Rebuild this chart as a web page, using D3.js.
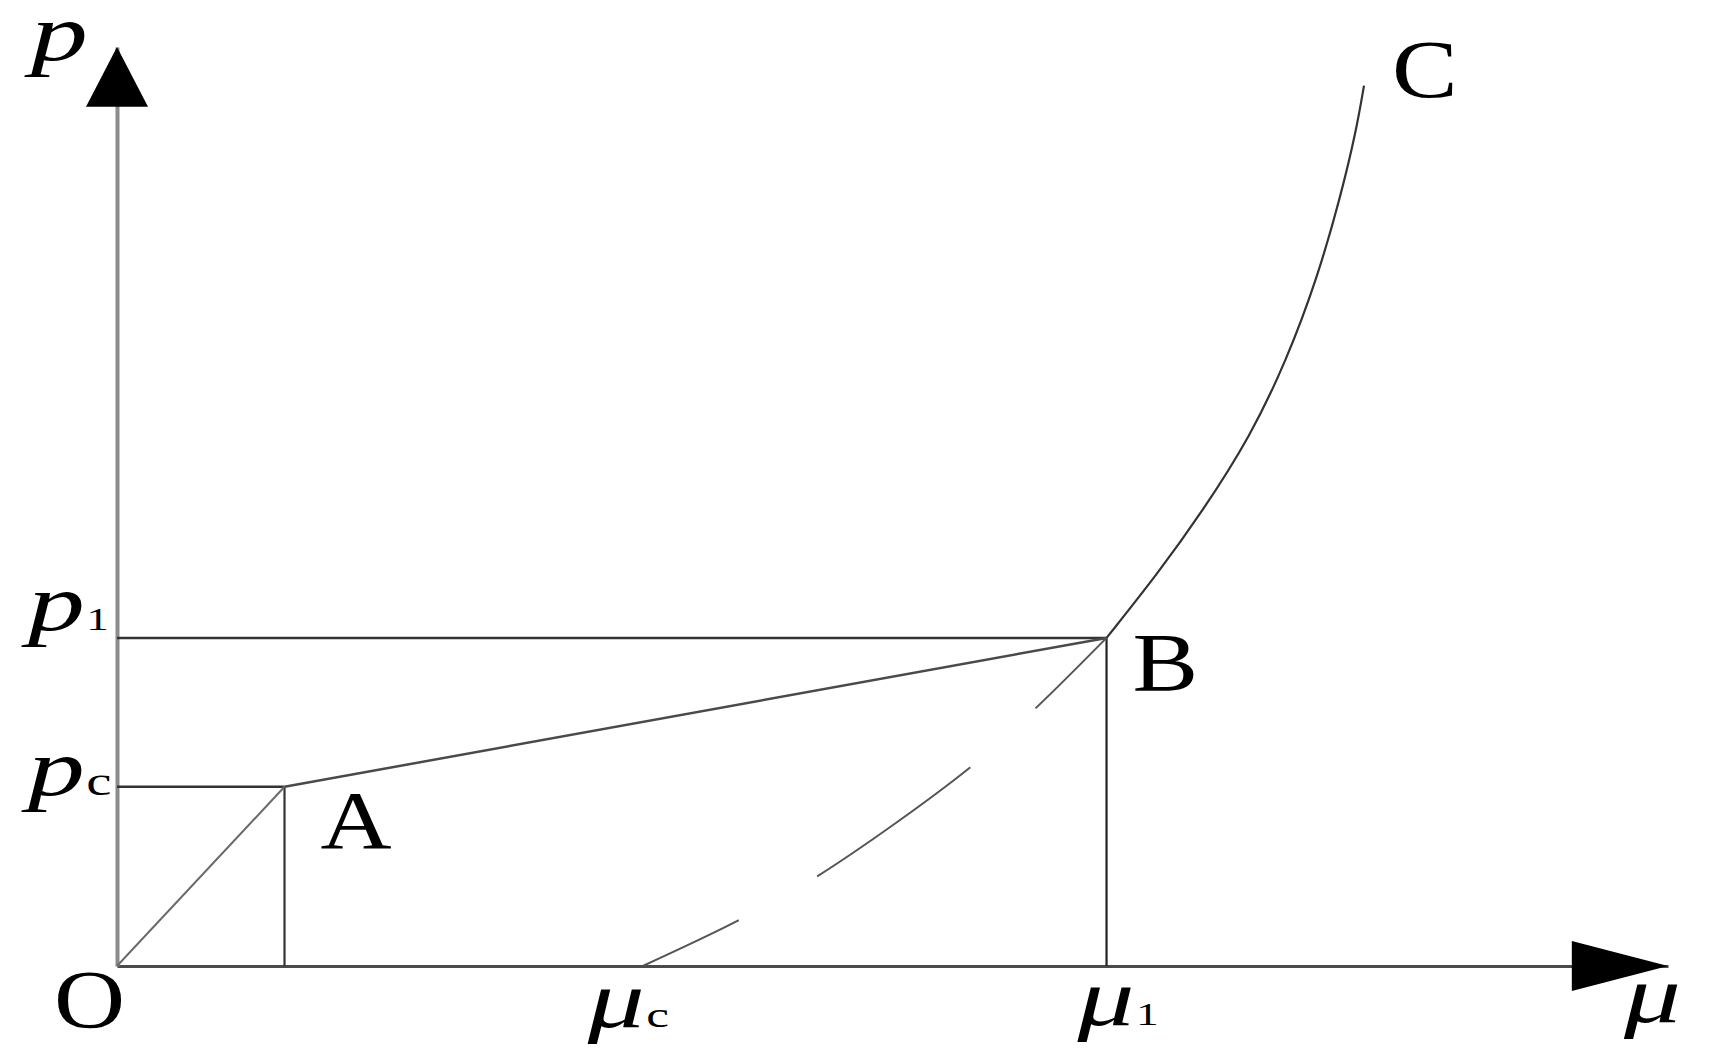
<!DOCTYPE html>
<html>
<head>
<meta charset="utf-8">
<script src="https://cdn.jsdelivr.net/npm/d3@7"></script>
<style>
  html, body { margin: 0; padding: 0; background: #fff; }
  svg { display: block; }
  .lbl { font-family: "Liberation Serif", "Times New Roman", serif; fill: #000; }
</style>
</head>
<body>
<div id="chart"></div>
<script>
// values in chart units (both axes run 0..100 up to the arrow tips)
const loadMu = [0, 10.8, 63.8];          // O -> A -> B
const loadP = [0, 19.5, 35.7];
const hardenMu = [63.8, 67.1, 70.0, 73.1, 75.4, 77.4, 78.9, 79.9, 80.4];   // B -> C
const hardenP = [35.7, 42.7, 49.5, 57.7, 65.9, 74.9, 83.8, 90.9, 95.8];
const unloadMu = [63.8, 59.2, 55.0, 45.1, 40.0, 33.9];   // B -> μc
const unloadP = [35.7, 28.0, 21.6, 9.7, 4.9, 0];
const pointLabels = ["O", "A", "B", "C"];
const yTickValues = [19.5, 35.7];
const yTickLabels = [["p", "c"], ["p", "1"]];
const xTickValues = [33.9, 63.8];
const xTickLabels = [["μ", "c"], ["μ", "1"]];

const width = 1709, height = 1059;
const svg = d3.select("#chart").append("svg")
    .attr("width", width)
    .attr("height", height);

const x = d3.scaleLinear().domain([0, 100]).range([117, 1668]);
const y = d3.scaleLinear().domain([0, 100]).range([966, 47]);

// axes (no ticks, just the lines)
svg.append("g")
    .attr("transform", `translate(0,${y(0)})`)
    .call(d3.axisBottom(x).ticks(0).tickSizeOuter(0))
    .select(".domain").attr("stroke", "#4a4a4a").attr("stroke-width", 3);
svg.append("g")
    .attr("transform", `translate(${x(0)},0)`)
    .call(d3.axisLeft(y).ticks(0).tickSizeOuter(0))
    .select(".domain").attr("stroke", "#8c8c8c").attr("stroke-width", 4);

// guide lines to the axes
const A = [loadMu[1], loadP[1]], B = [loadMu[2], loadP[2]];
const guides = [
    [[0, A[1]], A, "#333", 2.5],
    [[0, B[1]], B, "#333", 2.5],
    [A, [A[0], 0], "#333", 2.2],
    [B, [B[0], 0], "#222", 2.2]
];
guides.forEach(g => {
    svg.append("line")
        .attr("x1", x(g[0][0])).attr("y1", y(g[0][1]))
        .attr("x2", x(g[1][0])).attr("y2", y(g[1][1]))
        .attr("stroke", g[2]).attr("stroke-width", g[3]);
});

const line = d3.line().x(d => x(d[0])).y(d => y(d[1]));

// O-A and A-B
svg.append("path")
    .attr("d", line([[loadMu[0], loadP[0]], [loadMu[1], loadP[1]]]))
    .attr("fill", "none").attr("stroke", "#6a6a6a").attr("stroke-width", 2);
svg.append("path")
    .attr("d", line([[loadMu[1], loadP[1]], [loadMu[2], loadP[2]]]))
    .attr("fill", "none").attr("stroke", "#4a4a4a").attr("stroke-width", 2.5);

// B-C
svg.append("path")
    .attr("d", line.curve(d3.curveBasis)(d3.zip(hardenMu, hardenP)))
    .attr("fill", "none").attr("stroke", "#333").attr("stroke-width", 2.2);

// unloading curve, dashed
svg.append("path")
    .attr("d", line.curve(d3.curveCatmullRom)(d3.zip(unloadMu, unloadP)))
    .attr("fill", "none").attr("stroke", "#555").attr("stroke-width", 2)
    .attr("stroke-dasharray", "100 88 188 90 110 400");

// arrow heads
svg.append("path")
    .attr("d", `M${x(100)},${y(0)} L${x(93.8)},${y(0) - 25} L${x(93.8)},${y(0) + 25} Z`)
    .attr("fill", "#000");
svg.append("path")
    .attr("d", `M${x(0)},${y(100)} L${x(0) - 31},${y(93.5)} L${x(0) + 31},${y(93.5)} Z`)
    .attr("fill", "#000");

// text helper: main glyph plus optional small upright subscript, stretched wide like the source
function label(px, py, parts, italic, subSize) {
    const t = svg.append("text")
        .attr("class", "lbl")
        .attr("transform", `translate(${px},${py}) scale(${italic ? 1.42 : 1.2},1)`);
    t.append("tspan")
        .attr("font-size", italic ? 80 : 82)
        .attr("font-style", italic ? "italic" : "normal")
        .text(parts[0]);
    if (parts[1]) {
        t.append("tspan")
            .attr("font-size", subSize || 34)
            .attr("dx", 1)
            .text(parts[1]);
    }
}

// axis names
label(31, 60, ["p"], true);
label(1624, 1022, ["μ"], true);

// tick labels
label(28, y(yTickValues[0]) + 8, yTickLabels[0], true, 40);
label(28, y(yTickValues[1]) - 8, yTickLabels[1], true, 32);
label(x(xTickValues[0]) - 55, 1027, xTickLabels[0], true, 36);
label(x(xTickValues[1]) - 29, 1025, xTickLabels[1], true, 32);

// point labels
label(54, 1027, [pointLabels[0]], false);
label(x(loadMu[1]) + 36, y(loadP[1]) + 61, [pointLabels[1]], false);
label(x(loadMu[2]) + 26, y(loadP[2]) + 52, [pointLabels[2]], false);
label(x(hardenMu[hardenMu.length - 1]) + 28, 97, [pointLabels[3]], false);
</script>
</body>
</html>
